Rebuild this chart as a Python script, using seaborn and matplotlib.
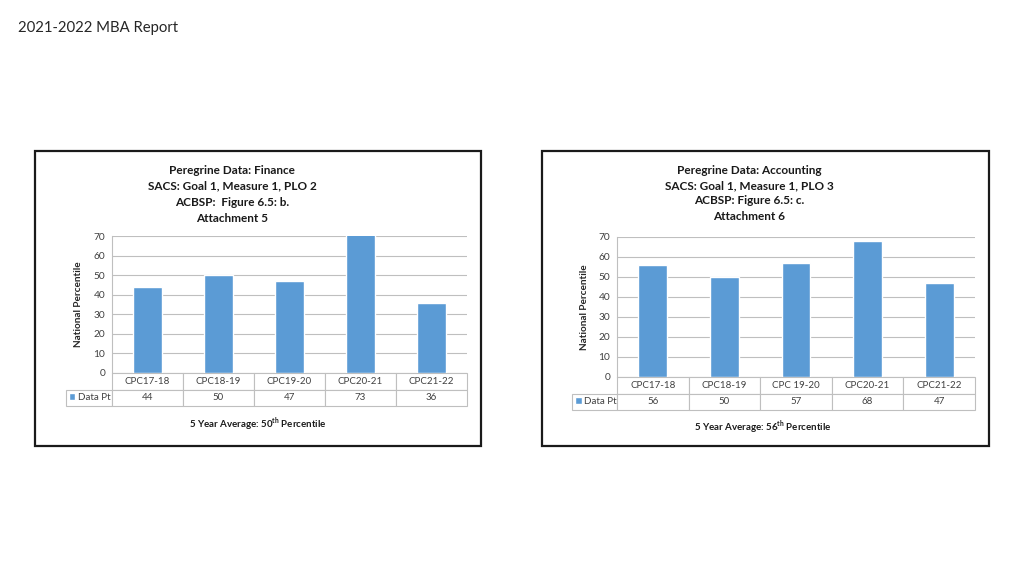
import matplotlib
matplotlib.use('Agg')
import matplotlib.pyplot as plt
import matplotlib.patches as mpatches
import seaborn as sns

# data
categories_fin = ['CPC17-18', 'CPC18-19', 'CPC19-20', 'CPC20-21', 'CPC21-22']
values_fin = [44, 50, 47, 73, 36]
categories_acc = ['CPC17-18', 'CPC18-19', 'CPC 19-20', 'CPC20-21', 'CPC21-22']
values_acc = [56, 50, 57, 68, 47]
series_name = 'Data Pt'

titles_fin = ['Peregrine Data: Finance', 'SACS: Goal 1, Measure 1, PLO 2',
              'ACBSP:  Figure 6.5: b.', 'Attachment 5']
titles_acc = ['Peregrine Data: Accounting', 'SACS: Goal 1, Measure 1, PLO 3',
              'ACBSP: Figure 6.5: c.', 'Attachment 6']
avg_fin = 50
avg_acc = 56

sns.set_style('white')
plt.rcParams['font.family'] = ['Lato', 'DejaVu Sans']
plt.rcParams['mathtext.fontset'] = 'custom'
plt.rcParams['mathtext.rm'] = 'Lato'
plt.rcParams['mathtext.bf'] = 'Lato:bold'

BAR = '#5B9BD5'
GRID = '#BFBFBF'
TXT = '#404040'

fig = plt.figure(figsize=(10.24, 5.76), dpi=100)
fig.patch.set_facecolor('white')

fig.text(18 / 1024, 1 - 28 / 576, '2021-2022 MBA Report', fontsize=10.7,
         color='#262626', va='center', ha='left')


def panel(box, ax_rect, cats, vals, titles, title_x, title_ys, avg, foot_xy, ylab_x, tab_left):
    fig.patches.append(mpatches.Rectangle((box[0], box[1]), box[2], box[3],
                                          transform=fig.transFigure, fill=False,
                                          edgecolor='#1a1a1a', linewidth=1.6))
    ax = fig.add_axes(ax_rect)
    sns.barplot(x=cats, y=vals, ax=ax, color=BAR, width=0.4, label=series_name,
                saturation=1)
    ax.set_ylim(0, 70)
    ax.set_yticks(range(0, 71, 10))
    ax.grid(axis='y', color=GRID, linewidth=0.8)
    ax.set_axisbelow(True)
    for s in ['top', 'right', 'bottom']:
        ax.spines[s].set_visible(False)
    ax.spines['left'].set_color(GRID)
    ax.spines['left'].set_linewidth(0.8)
    ax.tick_params(axis='y', labelsize=7.3, colors=GRID, labelcolor=TXT, length=3, width=0.8, pad=2)
    ax.set_xticks([])
    ax.set_xlabel('')
    ax.set_ylabel('National Percentile', fontsize=7.2, fontweight='bold', color='#262626')
    ax.yaxis.set_label_coords(ylab_x, 0.5)

    tab_h = 33 / (ax_rect[3] * 576)
    tab = ax.table(cellText=[[str(v) for v in vals]], colLabels=cats,
                   cellLoc='center', bbox=[0, -tab_h, 1, tab_h])
    # row-label cell (legend key goes in it)
    tab.add_cell(1, -1, width=-tab_left, height=tab[1, 0].get_height(), text='')
    tab.auto_set_font_size(False)
    tab.set_fontsize(7)
    for (r, c), cell in tab.get_celld().items():
        cell.set_edgecolor(GRID)
        cell.set_linewidth(0.8)
        cell.get_text().set_color(TXT)
    ax.legend(loc='center left', bbox_to_anchor=(tab_left + 0.008, -tab_h * 0.75),
              frameon=False, fontsize=7, handlelength=0.7, handleheight=0.7,
              handletextpad=0.3, borderpad=0, borderaxespad=0, labelcolor=TXT)

    for t, y in zip(titles, title_ys):
        fig.text(title_x, 1 - y / 576, t, fontsize=8.5, fontweight='bold',
                 ha='center', va='center', color='#1a1a1a')
    fig.text(foot_xy[0], foot_xy[1],
             '5 Year Average: ' + str(avg) + r'$^{\mathbf{th}}$' + ' Percentile',
             fontsize=7, fontweight='bold', ha='center', va='center', color='#1a1a1a')
    return ax


panel((35 / 1024, 1 - 446 / 576, 446 / 1024, 295 / 576),
      [112 / 1024, 1 - 373 / 576, 355 / 1024, 137 / 576],
      categories_fin, values_fin, titles_fin, 232 / 1024, [171, 186, 202, 218],
      avg_fin, (258 / 1024, 1 - 424 / 576), -0.082, -0.13)

panel((542 / 1024, 1 - 446 / 576, 447 / 1024, 295 / 576),
      [617 / 1024, 1 - 377 / 576, 358 / 1024, 140 / 576],
      categories_acc, values_acc, titles_acc, 749 / 1024, [170, 186, 201, 217],
      avg_acc, (763 / 1024, 1 - 427 / 576), -0.078, -0.126)

fig.savefig('out.png', dpi=100)
